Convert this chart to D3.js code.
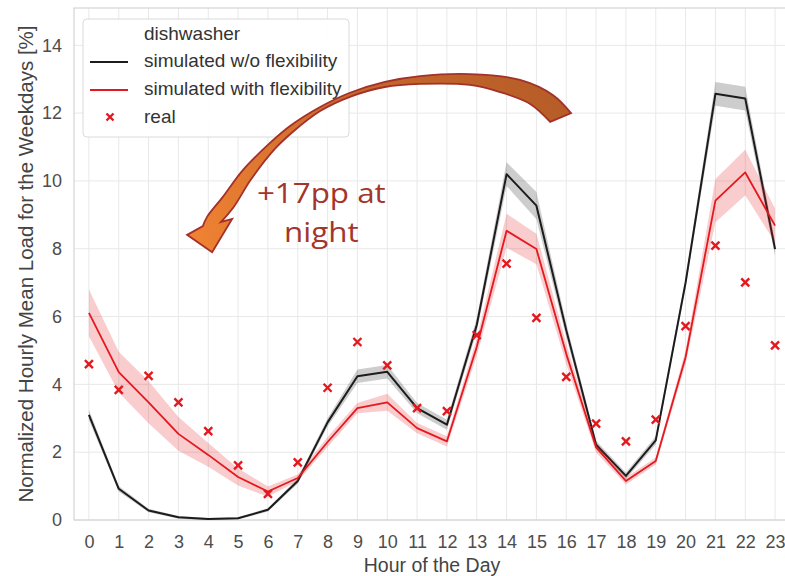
<!DOCTYPE html>
<html>
<head>
<meta charset="utf-8">
<script src="https://cdn.jsdelivr.net/npm/d3@7"></script>
<style>
  body { margin: 0; background: #fff; }
  text { font-family: "Liberation Sans", Arial, sans-serif; }
</style>
</head>
<body>
<svg id="chart" width="785" height="576"></svg>
<script>
// Hours of the day (x categories)
const hours = [0,1,2,3,4,5,6,7,8,9,10,11,12,13,14,15,16,17,18,19,20,21,22,23];
const yTicks = [0, 2, 4, 6, 8, 10, 12, 14];

// Simulated load without flexibility (mean and half-width of its confidence band)
const noFlex   = [3.10, 0.92, 0.28, 0.08, 0.03, 0.05, 0.30, 1.15, 2.88, 4.24, 4.37, 3.30, 2.81, 5.75, 10.20, 9.27, 5.60, 2.22, 1.30, 2.35, 7.00, 12.57, 12.43, 7.99];
const noFlexCI = [0.15, 0.08, 0.05, 0.04, 0.03, 0.03, 0.05, 0.08, 0.12, 0.20, 0.20, 0.15, 0.15, 0.20, 0.35, 0.40, 0.20, 0.12, 0.10, 0.12, 0.15, 0.35, 0.35, 0.20];

// Simulated load with flexibility
const withFlex   = [6.11, 4.36, 3.47, 2.54, 1.92, 1.27, 0.84, 1.24, 2.30, 3.30, 3.47, 2.71, 2.32, 5.10, 8.53, 7.99, 4.90, 2.14, 1.15, 1.74, 4.80, 9.42, 10.25, 8.68];
const withFlexCI = [0.69, 0.60, 0.62, 0.50, 0.35, 0.25, 0.15, 0.10, 0.15, 0.15, 0.25, 0.15, 0.15, 0.25, 0.50, 0.45, 0.30, 0.15, 0.10, 0.10, 0.20, 0.64, 0.67, 0.50];

// Measured load
const real = [4.60, 3.84, 4.25, 3.47, 2.62, 1.61, 0.77, 1.70, 3.90, 5.25, 4.56, 3.30, 3.21, 5.45, 7.56, 5.96, 4.22, 2.84, 2.32, 2.96, 5.72, 8.09, 7.01, 5.15];

const legendTitle = "dishwasher";
const legendLabels = ["simulated w/o flexibility", "simulated with flexibility", "real"];
const xLabel = "Hour of the Day";
const yLabel = "Normalized Hourly Mean Load for the Weekdays [%]";
const noteLines = ["+17pp at", "night"];

// Curved call-out arrow, in (hour, percent) coordinates
const arrowOuter = [[16.16,12.00],[15.56,12.53],[14.45,12.98],[12.77,13.15],[11.10,13.09],[9.92,12.92],[8.75,12.60],[7.75,12.18],[6.74,11.62],[6.07,11.12],[5.16,10.32],[4.49,9.53],[3.96,8.94],[3.82,8.67]];
const arrowHead  = [[3.29,8.41],[4.13,7.90],[4.80,8.88]];
const arrowInner = [[15.46,11.74],[14.79,12.27],[13.78,12.62],[12.77,12.83],[11.10,12.86],[9.92,12.77],[8.75,12.48],[7.75,12.06],[6.84,11.45],[6.24,10.95],[5.43,10.04],[4.86,9.24],[4.43,8.79]];
const notePos = [7.79, 9.35];

const svg = d3.select("#chart");
const plot = { left: 74, right: 790, top: 8, bottom: 520 };

const x = d3.scaleLinear().domain([-0.5, 23.5]).range([plot.left, plot.right]);
const y = d3.scaleLinear().domain([0, 15.1]).range([plot.bottom, plot.top]);

const black = "#1c1c1c";
const red = "#e4191f";
const tickColor = "#4d4d4d";

// Grid
const grid = svg.append("g");
grid.selectAll("line.v").data(hours).join("line")
  .attr("x1", d => x(d)).attr("x2", d => x(d))
  .attr("y1", plot.top).attr("y2", plot.bottom)
  .attr("stroke", "#e8e8e8").attr("stroke-width", 1);
grid.selectAll("line.h").data(yTicks).join("line")
  .attr("x1", plot.left).attr("x2", plot.right)
  .attr("y1", d => y(d)).attr("y2", d => y(d))
  .attr("stroke", "#e8e8e8").attr("stroke-width", 1);

// Frame
svg.append("rect")
  .attr("x", plot.left).attr("y", plot.top)
  .attr("width", plot.right - plot.left).attr("height", plot.bottom - plot.top)
  .attr("fill", "none").attr("stroke", "#d4d4d4").attr("stroke-width", 1.2);

// Axes
const gx = svg.append("g").attr("transform", `translate(0,${plot.bottom})`)
  .call(d3.axisBottom(x).tickValues(hours).tickSize(0).tickPadding(15));
const gy = svg.append("g").attr("transform", `translate(${plot.left},0)`)
  .call(d3.axisLeft(y).tickValues(yTicks).tickSize(0).tickPadding(12));
[gx, gy].forEach(g => {
  g.select(".domain").remove();
  g.selectAll("text")
    .style("font-family", '"Liberation Sans", Arial, sans-serif')
    .style("font-size", "18px").attr("fill", tickColor);
});

svg.append("text")
  .attr("x", x(11.5)).attr("y", 572)
  .attr("text-anchor", "middle")
  .style("font-size", "19.5px").attr("fill", "#444")
  .text(xLabel);
svg.append("text")
  .attr("transform", `translate(33,${(plot.top + plot.bottom) / 2}) rotate(-90)`)
  .attr("text-anchor", "middle")
  .style("font-size", "20.5px").attr("fill", "#444")
  .text(yLabel);

// Series: confidence bands, lines, and measured markers
const area = (m, ci) => d3.area()
  .x((d, i) => x(hours[i]))
  .y0((d, i) => y(m[i] - ci[i]))
  .y1((d, i) => y(m[i] + ci[i]))(m);
const line = d3.line().x((d, i) => x(hours[i])).y(d => y(d));

svg.append("path").attr("d", area(noFlex, noFlexCI)).attr("fill", black).attr("fill-opacity", 0.22);
svg.append("path").attr("d", line(noFlex)).attr("fill", "none")
  .attr("stroke", black).attr("stroke-width", 2).attr("stroke-linejoin", "round");
svg.append("path").attr("d", area(withFlex, withFlexCI)).attr("fill", red).attr("fill-opacity", 0.22);
svg.append("path").attr("d", line(withFlex)).attr("fill", "none")
  .attr("stroke", red).attr("stroke-width", 1.8).attr("stroke-linejoin", "round");

const cross = (sel, s) => sel.attr("d", `M${-s},${-s}L${s},${s}M${-s},${s}L${s},${-s}`)
  .attr("stroke", red).attr("stroke-width", 2.4).attr("fill", "none");
svg.append("g").selectAll("path").data(real).join("path")
  .attr("transform", (d, i) => `translate(${x(hours[i])},${y(d)})`)
  .call(cross, 4);

// Legend
const lg = svg.append("g");
lg.append("rect").attr("x", 83).attr("y", 19).attr("width", 266).attr("height", 118)
  .attr("rx", 4).attr("fill", "#fff").attr("fill-opacity", 0.92)
  .attr("stroke", "#dadada").attr("stroke-width", 1);
lg.append("text").attr("x", 144).attr("y", 40).style("font-size", "19px").attr("fill", "#333").text(legendTitle);
legendLabels.forEach((lab, i) => {
  const by = 67 + i * 28;
  lg.append("text").attr("x", 144).attr("y", by).style("font-size", "19px").attr("fill", "#333").text(lab);
  if (i < 2) {
    lg.append("line").attr("x1", 90).attr("x2", 128).attr("y1", by - 5).attr("y2", by - 5)
      .attr("stroke", i === 0 ? black : red).attr("stroke-width", i === 0 ? 2 : 1.8);
  } else {
    lg.append("path").attr("transform", `translate(110,${by - 6})`).call(cross, 3.5);
  }
});

// Call-out arrow
const defs = svg.append("defs");
const grad = defs.append("linearGradient").attr("id", "arrowFill")
  .attr("gradientUnits", "userSpaceOnUse")
  .attr("x1", x(16.2)).attr("y1", y(12.5)).attr("x2", x(3.5)).attr("y2", y(8));
grad.append("stop").attr("offset", 0).attr("stop-color", "#b65c27");
grad.append("stop").attr("offset", 0.45).attr("stop-color", "#c4672b");
grad.append("stop").attr("offset", 1).attr("stop-color", "#f08232");

const edge = d3.line().x(d => x(d[0])).y(d => y(d[1])).curve(d3.curveCatmullRom.alpha(0.5));
const outerD = edge(arrowOuter);
const innerD = edge(arrowInner.slice().reverse()).replace(/^M/, "L");
const headD = arrowHead.map(p => `L${x(p[0])},${y(p[1])}`).join("");
svg.append("path")
  .attr("d", outerD + headD + innerD + "Z")
  .attr("fill", "url(#arrowFill)")
  .attr("stroke", "#a3302a").attr("stroke-width", 1.8).attr("stroke-linejoin", "miter");

noteLines.forEach((t, i) => {
  svg.append("text")
    .attr("transform", `translate(${x(notePos[0])},${y(notePos[1]) + i * 39}) scale(1.12,1)`)
    .attr("text-anchor", "middle")
    .style("font-family", '"Open Sans", "Noto Sans", sans-serif')
    .style("font-size", "28px").attr("fill", "#a3352c")
    .text(t);
});
</script>
</body>
</html>
